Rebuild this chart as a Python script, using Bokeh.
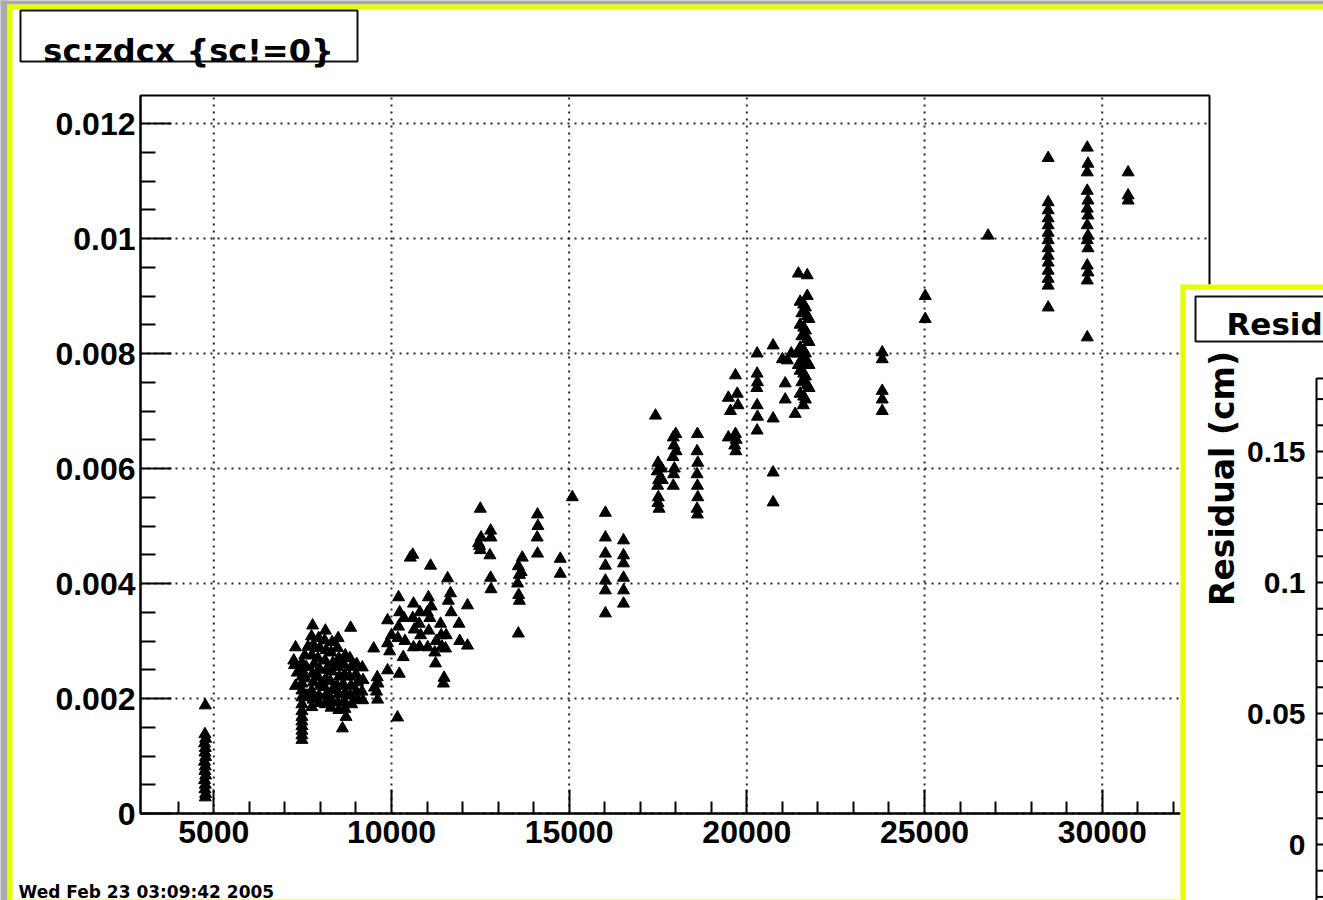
import math
from bokeh.plotting import figure
from bokeh.models import Range1d, FixedTicker, BoxAnnotation, Label
from bokeh.embed import file_html
from bokeh.resources import INLINE

# ---------------- data (zdcx, sc) ----------------
group_5k = [(4760, 0.00188), (4750, 0.00138), (4770, 0.00130), (4740, 0.00122), (4760, 0.00114),
            (4750, 0.00106), (4770, 0.00098), (4740, 0.00090), (4760, 0.00082), (4750, 0.00074),
            (4770, 0.00066), (4740, 0.00058), (4760, 0.00050), (4750, 0.00042), (4770, 0.00034),
            (4760, 0.00028)]

group_8k = [(7250, 0.00266), (7270, 0.00258), (7300, 0.00289), (7350, 0.00245), (7300, 0.00222),
            (7480, 0.00128), (7480, 0.00136), (7480, 0.00144), (7480, 0.00152), (7480, 0.00160),
            (7480, 0.00168), (7480, 0.00178), (7480, 0.00190), (7480, 0.00202), (7480, 0.00214),
            (7480, 0.00226), (7480, 0.00238), (7480, 0.00250), (7480, 0.00262),
            (7560, 0.00275), (7600, 0.00255), (7580, 0.00235), (7620, 0.00205), (7650, 0.00290),
            (7780, 0.00327), (7750, 0.00308), (7800, 0.00293), (7760, 0.00275), (7820, 0.00260),
            (7780, 0.00243), (7800, 0.00228), (7750, 0.00213), (7790, 0.00198), (7760, 0.00185),
            (7950, 0.00305), (7980, 0.00288), (7930, 0.00270), (7970, 0.00252), (7940, 0.00237),
            (7990, 0.00222), (7960, 0.00205), (7980, 0.00192),
            (8140, 0.00318), (8120, 0.00301), (8160, 0.00284), (8130, 0.00266), (8170, 0.00250),
            (8150, 0.00234), (8110, 0.00220), (8160, 0.00206), (8140, 0.00190),
            (8330, 0.00298), (8300, 0.00280), (8350, 0.00262), (8320, 0.00247), (8280, 0.00230),
            (8340, 0.00215), (8310, 0.00198), (8300, 0.00184),
            (8500, 0.00305), (8480, 0.00288), (8520, 0.00270), (8490, 0.00255), (8530, 0.00238),
            (8470, 0.00222), (8510, 0.00208), (8490, 0.00193), (8520, 0.00180),
            (8620, 0.00148), (8650, 0.00260), (8680, 0.00242), (8640, 0.00225), (8700, 0.00210),
            (8660, 0.00196), (8690, 0.00182), (8720, 0.00168), (8700, 0.00275),
            (8850, 0.00323), (8830, 0.00270), (8870, 0.00255), (8820, 0.00238), (8860, 0.00222),
            (8840, 0.00205), (8880, 0.00190),
            (9020, 0.00260), (9000, 0.00242), (9050, 0.00228), (9010, 0.00212), (9040, 0.00198),
            (9180, 0.00254), (9200, 0.00232), (9170, 0.00212), (9190, 0.00197),
            (9500, 0.00287), (9520, 0.00219), (9600, 0.00237), (9620, 0.00226), (9580, 0.00212),
            (9610, 0.00198)]

group_11k = [(9890, 0.00336), (9890, 0.00296), (9890, 0.00249), (9950, 0.00282), (10000, 0.00310),
             (10170, 0.00167), (10200, 0.00376), (10230, 0.00350), (10200, 0.00325), (10180, 0.00305),
             (10220, 0.00243), (10350, 0.00340), (10380, 0.00300), (10330, 0.00272),
             (10530, 0.00445), (10600, 0.00450), (10620, 0.00365), (10600, 0.00340), (10640, 0.00320),
             (10620, 0.00289), (10800, 0.00350), (10780, 0.00330), (10820, 0.00310), (10790, 0.00290),
             (11040, 0.00376), (11010, 0.00350), (11050, 0.00318), (11020, 0.00289), (11100, 0.00431),
             (11120, 0.00360), (11080, 0.00340), (11240, 0.00261), (11220, 0.00280), (11260, 0.00300),
             (11400, 0.00310), (11380, 0.00330), (11420, 0.00290), (11460, 0.00226), (11480, 0.00236),
             (11520, 0.00287), (11540, 0.00310), (11580, 0.00409), (11600, 0.00370), (11660, 0.00383),
             (11680, 0.00350), (11900, 0.00330), (11920, 0.00300), (12140, 0.00362), (12140, 0.00292)]

group_14k = [(12450, 0.00470), (12500, 0.00530), (12480, 0.00465), (12520, 0.00480), (12500, 0.00458),
             (12790, 0.00492), (12800, 0.00480), (12770, 0.00449), (12790, 0.00410), (12800, 0.00390),
             (13570, 0.00430), (13600, 0.00415), (13550, 0.00400), (13580, 0.00380), (13600, 0.00370),
             (13570, 0.00313), (13680, 0.00445), (13650, 0.00420),
             (14110, 0.00520), (14120, 0.00500), (14100, 0.00480), (14110, 0.00452),
             (14750, 0.00443), (14750, 0.00417), (15090, 0.00550),
             (16020, 0.00523), (16020, 0.00480), (16020, 0.00452), (16020, 0.00431), (16020, 0.00405),
             (16020, 0.00388), (16020, 0.00348),
             (16530, 0.00475), (16530, 0.00449), (16530, 0.00435), (16530, 0.00410), (16530, 0.00388),
             (16530, 0.00365)]

group_18k = [(17430, 0.00692), (17500, 0.00610), (17480, 0.00595), (17520, 0.00580), (17490, 0.00570),
             (17510, 0.00550), (17500, 0.00540), (17530, 0.00530), (17600, 0.00600), (17620, 0.00580),
             (17930, 0.00654), (17950, 0.00640), (17920, 0.00620), (17960, 0.00600), (17940, 0.00590),
             (17930, 0.00570), (18000, 0.00660), (18010, 0.00630),
             (18610, 0.00660), (18600, 0.00630), (18620, 0.00610), (18600, 0.00590), (18610, 0.00570),
             (18620, 0.00550), (18600, 0.00530), (18610, 0.00520)]

group_21k = [(19480, 0.00723), (19480, 0.00654), (19540, 0.00700), (19680, 0.00762), (19680, 0.00660),
             (19700, 0.00650), (19660, 0.00640), (19690, 0.00630), (19730, 0.00730), (19750, 0.00710),
             (20290, 0.00800), (20290, 0.00765), (20300, 0.00750), (20280, 0.00740), (20290, 0.00710),
             (20300, 0.00690), (20290, 0.00666),
             (20740, 0.00814), (20740, 0.00687), (20740, 0.00593), (20740, 0.00541),
             (21080, 0.00748), (21080, 0.00720), (21140, 0.00788), (21360, 0.00695), (21000, 0.00790),
             (21250, 0.00800), (21450, 0.00939), (21700, 0.00936), (21700, 0.00900),
             (21500, 0.00890), (21650, 0.00880), (21550, 0.00870), (21750, 0.00860), (21500, 0.00850),
             (21650, 0.00840), (21550, 0.00830), (21750, 0.00820), (21500, 0.00810), (21650, 0.00800),
             (21550, 0.00790), (21750, 0.00780), (21500, 0.00770), (21650, 0.00760), (21550, 0.00750),
             (21750, 0.00740), (21500, 0.00730), (21650, 0.00720), (21590, 0.00710),
             (21600, 0.00885), (21700, 0.00865), (21600, 0.00845), (21700, 0.00825), (21600, 0.00805),
             (21700, 0.00785), (21600, 0.00765), (21700, 0.00745), (21600, 0.00725), (21450, 0.00800),
             (21450, 0.00780)]

group_25k = [(23810, 0.00802), (23810, 0.00790), (23810, 0.00735), (23810, 0.00720), (23810, 0.00700),
             (25020, 0.00900), (25020, 0.00860), (26790, 0.01005)]

group_29k = [(28480, 0.01140), (28480, 0.01063), (28480, 0.01049), (28480, 0.01035), (28480, 0.01023),
             (28480, 0.01010), (28480, 0.00997), (28480, 0.00983), (28480, 0.00970), (28480, 0.00958),
             (28480, 0.00944), (28480, 0.00930), (28480, 0.00918), (28480, 0.00880),
             (29580, 0.01158), (29600, 0.01130), (29580, 0.01115), (29580, 0.01083), (29600, 0.01066),
             (29580, 0.01052), (29600, 0.01040), (29580, 0.01023), (29600, 0.01005), (29580, 0.00997),
             (29600, 0.00983), (29580, 0.00953), (29600, 0.00941), (29580, 0.00927), (29580, 0.00828),
             (30730, 0.01115), (30730, 0.01075), (30730, 0.01066)]

x_ticks = [5000, 10000, 15000, 20000, 25000, 30000]
x_tick_labels = ["5000", "10000", "15000", "20000", "25000", "30000"]
x_minor = [4000, 6000, 7000, 8000, 9000, 11000, 12000, 13000, 14000, 16000, 17000, 18000, 19000,
           21000, 22000, 23000, 24000, 26000, 27000, 28000, 29000, 31000, 32000]
y_ticks = [0.0, 0.002, 0.004, 0.006, 0.008, 0.01, 0.012]
y_tick_labels = ["0", "0.002", "0.004", "0.006", "0.008", "0.01", "0.012"]
y_minor = [0.0005, 0.001, 0.0015, 0.0025, 0.003, 0.0035, 0.0045, 0.005, 0.0055, 0.0065, 0.007,
           0.0075, 0.0085, 0.009, 0.0095, 0.0105, 0.011, 0.0115]

title_text = "sc:zdcx {sc!=0}"
stamp_text = "Wed Feb 23 03:09:42 2005"

# second (partly hidden) canvas
res_title = "Resid"
res_ylabel = "Residual (cm)"
res_ticks = [-0.02, -0.01, 0.0, 0.01, 0.02, 0.03, 0.04, 0.05, 0.06, 0.07, 0.08, 0.09, 0.1,
             0.11, 0.12, 0.13, 0.14, 0.15, 0.16, 0.17]
res_major = [0.0, 0.05, 0.1, 0.15]
res_major_labels = ["0", "0.05", "0.1", "0.15"]

# ---------------- layout ----------------
W, H = 1323, 900
FL, FR, FT, FB = 140, 1209, 95, 813          # pixel box of the main plot frame
XMIN, XMAX = 2937.0, 33020.0
YMIN, YMAX = 0.0, 0.012487

YELLOW = "#e3ff00"
GRAY = "#a9a9b1"
BOLD_FONT = "DejaVu Sans"
NUM_FONT = "Liberation Sans"


def cx(px):
    return XMIN + (px - FL) * (XMAX - XMIN) / (FR - FL)


def cy(py):
    return YMIN + (FB - py) * (YMAX - YMIN) / (FB - FT)


p = figure(width=W, height=H, output_backend="svg", toolbar_location=None, title=None,
           x_range=Range1d(cx(0), cx(W)), y_range=Range1d(cy(H), cy(0)),
           min_border=0, min_border_left=0, min_border_right=0, min_border_top=0, min_border_bottom=0)
p.background_fill_color = "white"
p.border_fill_color = "white"
p.outline_line_color = None
p.xgrid.visible = False
p.ygrid.visible = False

# axes drawn at the edges of the main frame
xa = p.xaxis[0]
ya = p.yaxis[0]
xa.fixed_location = YMIN
ya.fixed_location = XMIN
xa.bounds = (XMIN, XMAX)
ya.bounds = (YMIN, YMAX)
xa.ticker = FixedTicker(ticks=x_ticks, minor_ticks=x_minor)
ya.ticker = FixedTicker(ticks=y_ticks, minor_ticks=y_minor)
xa.major_label_overrides = dict(zip(x_ticks, x_tick_labels))
ya.major_label_overrides = dict(zip(y_ticks, y_tick_labels))
for ax in (xa, ya):
    ax.major_tick_out = 0
    ax.minor_tick_out = 0
    ax.axis_line_width = 2
    ax.axis_line_color = "black"
    ax.major_tick_line_width = 2
    ax.minor_tick_line_width = 2
    ax.major_tick_line_color = "black"
    ax.minor_tick_line_color = "black"
    ax.major_label_text_font = NUM_FONT
    ax.major_label_text_font_style = "bold"
    ax.major_label_text_font_size = "32px"
    ax.major_label_text_color = "black"
ya.major_tick_in = 31
ya.minor_tick_in = 15
xa.major_tick_in = 24
xa.minor_tick_in = 12
xa.major_label_standoff = 7
ya.major_label_standoff = 5

# dotted grid at the major ticks, inside the frame
p.segment(x0=x_ticks, x1=x_ticks, y0=[YMIN] * len(x_ticks), y1=[YMAX] * len(x_ticks),
          line_color="black", line_alpha=0.85, line_width=2, line_dash="2 5", level="underlay")
p.segment(x0=[XMIN] * len(y_ticks), x1=[XMAX] * len(y_ticks), y0=y_ticks, y1=y_ticks,
          line_color="black", line_alpha=0.85, line_width=2, line_dash="2 5", level="underlay")

zdcx, sc = [], []
for grp in (group_5k, group_8k, group_11k, group_14k, group_18k, group_21k, group_25k, group_29k):
    for a, b in grp:
        zdcx.append(a)
        sc.append(b)

p.scatter(zdcx, sc, marker="triangle", size=12, fill_color="black", line_color="black", line_width=1)

# frame outline
p.add_layout(BoxAnnotation(left=XMIN, right=XMAX, bottom=YMIN, top=YMAX, fill_color=None,
                           fill_alpha=0.0, line_color="black", line_alpha=1.0, line_width=2,
                           level="annotation"))


def box(x0, x1, y0, y1, fill, line=None, lw=0, level="annotation"):
    p.add_layout(BoxAnnotation(left=cx(x0), right=cx(x1), top=cy(y0), bottom=cy(y1),
                               fill_color=fill, fill_alpha=1.0 if fill else 0.0,
                               line_color=line, line_alpha=1.0, line_width=lw, level=level))


def label(text, x, y, font, size, align="left", baseline="alphabetic", angle=0.0, level="annotation"):
    p.add_layout(Label(x=cx(x), y=cy(y), text=text, text_font=font, text_font_style="bold",
                       text_font_size=f"{size}px", text_color="black", text_align=align,
                       text_baseline=baseline, angle=angle, level=level))


# outer desktop and canvas border
box(-5, 7, -5, 905, GRAY)
box(-5, 1330, -5, 4, GRAY)
box(7, 12, 4, 905, YELLOW)
box(7, 1330, 4, 9, YELLOW)
box(12, 1180, 898, 905, "#f2ffa0")

# title box and timestamp
box(20, 357, 10, 61, "white", "#111111", 2)
label(title_text, 188, 50, BOLD_FONT, 32, align="center")
label(stamp_text, 18, 891, BOLD_FONT, 17)

# second canvas on top
box(1180, 1340, 284, 910, "white", level="overlay")
box(1180, 1185, 284, 910, YELLOW, level="overlay")
box(1180, 1340, 284, 289, YELLOW, level="overlay")
box(1195, 1345, 296, 341, "white", "#111111", 2, level="overlay")
label(res_title, 1226, 323, BOLD_FONT, 31, level="overlay")
box(1316, 1345, 378, 915, None, "black", 2, level="overlay")


def res_y(v):
    return 844 - v * 2620


for t in res_ticks:
    yy = res_y(t)
    box(1316, 1330, yy - 1, yy + 1, "black", level="overlay")
for t, s in zip(res_major, res_major_labels):
    label(s, 1305, res_y(t), NUM_FONT, 30, align="right", baseline="middle", level="overlay")
label(res_ylabel, 1222, 478, BOLD_FONT, 33, align="center", baseline="middle",
      angle=math.pi / 2, level="overlay")

open("out.html", "w").write(file_html(p, INLINE))
